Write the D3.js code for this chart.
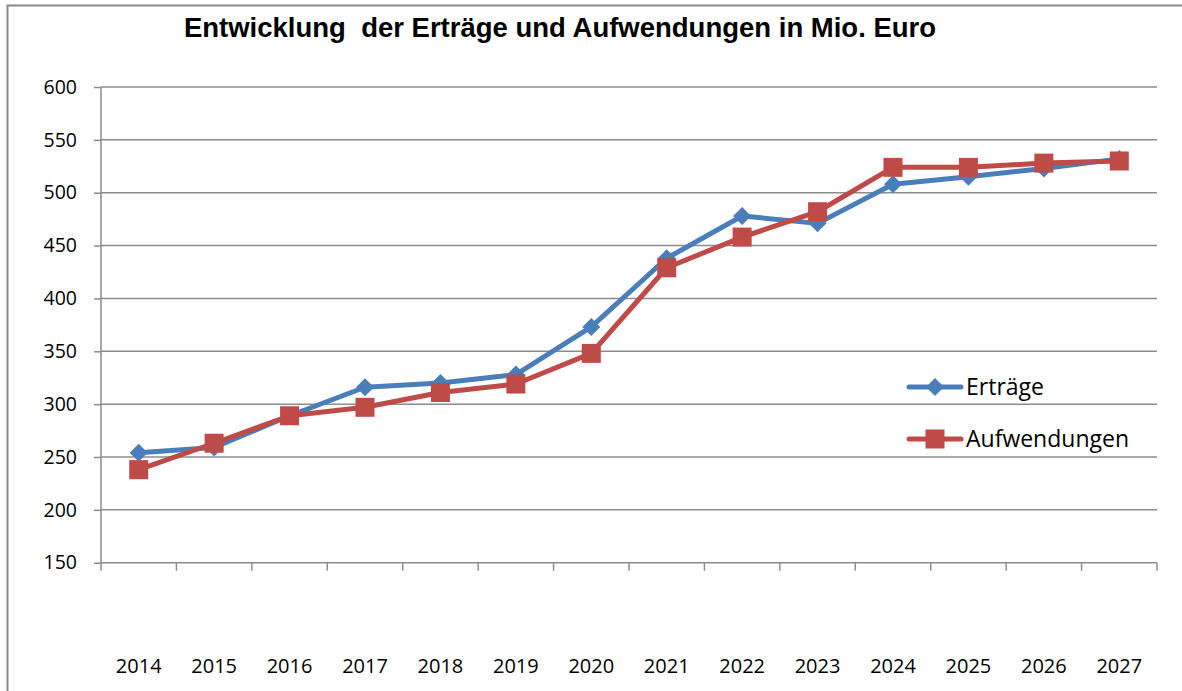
<head>
  <script src="https://d3js.org/d3.v7.min.js"></script>
  <style>
    body { margin: 0; background: #fff; }
    .tick text { font-family: "Open Sans", sans-serif; font-size: 19.5px; fill: #000; }
  </style>
</head>

<body>
  <svg id="chart" width="1182" height="691"></svg>
</body>

<script>
  const years = ["2014", "2015", "2016", "2017", "2018", "2019", "2020", "2021", "2022", "2023", "2024", "2025", "2026", "2027"];
  const ertraege = [254, 259, 289, 316, 320, 328, 373, 438, 478, 471, 508, 515, 523, 532];
  const aufwendungen = [238, 263, 289, 297, 311, 319, 348, 429, 458, 482, 524, 524, 528, 530];
  const yTicks = [150, 200, 250, 300, 350, 400, 450, 500, 550, 600];

  const series = [
    { name: "Erträge", values: ertraege, color: "#4a7ebb", shape: "diamond" },
    { name: "Aufwendungen", values: aufwendungen, color: "#be4b48", shape: "square" }
  ];

  const svg = d3.select("#chart");
  const plotLeft = 101, plotRight = 1157, plotTop = 87, plotBottom = 562.7;

  // frame of the chart object
  svg.append("path")
    .attr("d", "M7.5,700 L7.5,5.5 L1190,5.5")
    .attr("fill", "none")
    .attr("stroke", "#8a8a8a")
    .attr("stroke-width", 2);

  svg.append("text")
    .attr("x", 560).attr("y", 37)
    .attr("text-anchor", "middle")
    .style("font-family", "'Liberation Sans', Arial, sans-serif")
    .style("font-weight", "bold")
    .style("font-size", "27.5px")
    .style("white-space", "pre")
    .text("Entwicklung  der Erträge und Aufwendungen in Mio. Euro");

  const x = d3.scaleBand().domain(years).range([plotLeft, plotRight]);
  const y = d3.scaleLinear().domain([150, 600]).range([plotBottom, plotTop]);

  // horizontal gridlines
  svg.append("g").selectAll("line")
    .data(yTicks.slice(1))
    .join("line")
    .attr("x1", plotLeft).attr("x2", plotRight)
    .attr("y1", d => y(d)).attr("y2", d => y(d))
    .attr("stroke", "#8c8c8c").attr("stroke-width", 1.5);

  const yAxis = svg.append("g")
    .attr("transform", `translate(${plotLeft},0)`)
    .call(d3.axisLeft(y).tickValues(yTicks).tickSize(7).tickPadding(17));
  yAxis.selectAll("line, path").attr("stroke", "#8c8c8c").attr("stroke-width", 1.5);
  yAxis.select(".domain").attr("d", `M0,${plotTop}V${plotBottom}`);

  // category axis: ticks at band edges, labels well below
  const xAxisG = svg.append("g").attr("transform", `translate(0,${plotBottom})`);
  xAxisG.append("line")
    .attr("x1", plotLeft).attr("x2", plotRight)
    .attr("stroke", "#8c8c8c").attr("stroke-width", 1.5);
  const edges = years.map(d => x(d)).concat([plotRight]);
  xAxisG.selectAll("line.tk")
    .data(edges)
    .join("line")
    .attr("class", "tk")
    .attr("x1", d => d).attr("x2", d => d)
    .attr("y1", 0).attr("y2", 8)
    .attr("stroke", "#8c8c8c").attr("stroke-width", 1.5);
  xAxisG.selectAll("text")
    .data(years)
    .join("text")
    .attr("x", d => x(d) + x.bandwidth() / 2)
    .attr("y", 110)
    .attr("text-anchor", "middle")
    .style("font-family", "'Open Sans', sans-serif")
    .style("font-size", "20px")
    .text(d => d);

  const line = d3.line()
    .x((d, i) => x(years[i]) + x.bandwidth() / 2)
    .y(d => y(d));

  function marker(g, shape, color, cx, cy) {
    if (shape === "diamond") {
      g.append("path")
        .attr("d", `M${cx},${cy - 9}L${cx + 9},${cy}L${cx},${cy + 9}L${cx - 9},${cy}Z`)
        .attr("fill", color);
    } else {
      g.append("rect")
        .attr("x", cx - 9.5).attr("y", cy - 9.5)
        .attr("width", 19).attr("height", 19)
        .attr("fill", color);
    }
  }

  series.forEach(s => {
    const g = svg.append("g");
    g.append("path")
      .datum(s.values)
      .attr("d", line)
      .attr("fill", "none")
      .attr("stroke", s.color)
      .attr("stroke-width", 5)
      .attr("stroke-linejoin", "round");
    s.values.forEach((v, i) => marker(g, s.shape, s.color, x(years[i]) + x.bandwidth() / 2, y(v)));
  });

  // legend
  const legend = svg.append("g");
  series.forEach((s, i) => {
    const ly = 387 + i * 52;
    legend.append("line")
      .attr("x1", 909).attr("x2", 961)
      .attr("y1", ly).attr("y2", ly)
      .attr("stroke", s.color).attr("stroke-width", 5)
      .attr("stroke-linecap", "round");
    marker(legend, s.shape, s.color, 935, ly);
    legend.append("text")
      .attr("x", 966).attr("y", ly + 8)
      .style("font-family", "'Open Sans', sans-serif")
      .style("font-size", "23px")
      .text(s.name);
  });
</script>
